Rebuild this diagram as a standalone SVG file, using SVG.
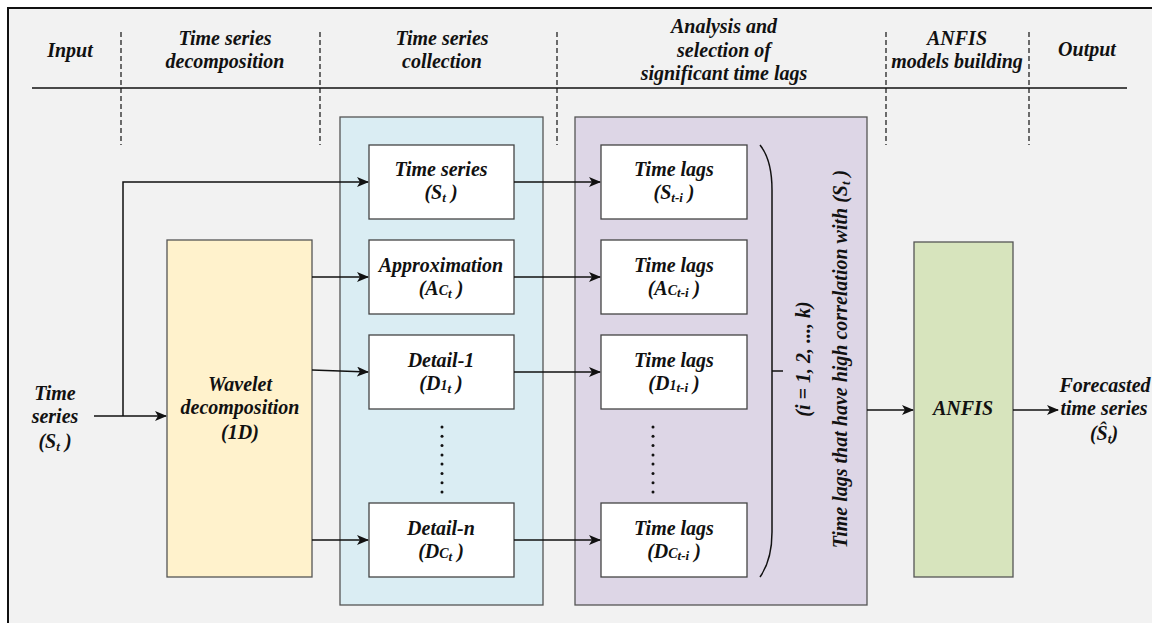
<svg xmlns="http://www.w3.org/2000/svg" width="1152" height="623" viewBox="0 0 1152 623">
  <defs>
    <style>
      text { font-family: 'Liberation Serif', 'DejaVu Serif', serif; font-weight: 700; font-style: italic; fill: #111; }
      .h { font-size: 20px; text-anchor: middle; }
      .n { font-size: 20px; text-anchor: middle; }
      .sm { font-size: 14px; }
      .sub { font-size: 13px; }
      .box { fill: #ffffff; stroke: #444; stroke-width: 1.3; }
      .dash { stroke: #111; stroke-width: 1.2; stroke-dasharray: 5 3; fill: none; }
      .wire { stroke: #111; stroke-width: 1.5; fill: none; }
      .dot { fill: #111; }
    </style>
    <marker id="arrow" viewBox="0 0 12 10" refX="11" refY="5" markerWidth="12" markerHeight="10" markerUnits="userSpaceOnUse" orient="auto">
      <path d="M0,0 L12,5 L0,10 L3,5 Z" fill="#111"/>
    </marker>
  </defs>

  <!-- page and frame -->
  <rect x="0" y="0" width="1152" height="623" fill="#ffffff"/>
  <rect x="8" y="8" width="1150" height="620" fill="#f2f2f2" stroke="#111" stroke-width="2"/>

  <g font-family="Liberation Serif, DejaVu Serif, serif">
  <!-- stage header -->
  <g id="header">
    <line x1="32" y1="88" x2="1127" y2="88" stroke="#111" stroke-width="1.5"/>
    <line class="dash" x1="121" y1="32" x2="121" y2="145"/>
    <line class="dash" x1="320" y1="32" x2="320" y2="145"/>
    <line class="dash" x1="557" y1="32" x2="557" y2="145"/>
    <line class="dash" x1="886" y1="32" x2="886" y2="145"/>
    <line class="dash" x1="1029" y1="32" x2="1029" y2="145"/>
    <text class="h" x="70" y="57">Input</text>
    <text class="h" x="225" y="45">Time series</text>
    <text class="h" x="225" y="68">decomposition</text>
    <text class="h" x="442" y="45">Time series</text>
    <text class="h" x="442" y="68">collection</text>
    <text class="h" x="724" y="33">Analysis and</text>
    <text class="h" x="724" y="57">selection of</text>
    <text class="h" x="724" y="80">significant time lags</text>
    <text class="h" x="957" y="45">ANFIS</text>
    <text class="h" x="957" y="68">models building</text>
    <text class="h" x="1087" y="56">Output</text>
  </g>

  <!-- stage panels -->
  <g id="collection-panel">
    <rect x="340" y="117" width="203" height="488" fill="#daedf3" stroke="#555" stroke-width="1.3"/>
  </g>
  <g id="lags-panel">
    <rect x="575" y="117" width="292" height="488" fill="#ddd6e6" stroke="#555" stroke-width="1.3"/>
  </g>

  <!-- input label -->
  <g id="input">
    <text class="n" x="55" y="400">Time</text>
    <text class="n" x="55" y="423">series</text>
    <text class="n" x="55" y="448">(S<tspan class="sub" dy="3">t</tspan><tspan dy="-3"> )</tspan></text>
  </g>

  <!-- wavelet decomposition -->
  <g id="wavelet">
    <rect x="167" y="240" width="145" height="337" fill="#fff2cc" stroke="#555" stroke-width="1.3"/>
    <text class="n" x="240" y="391">Wavelet</text>
    <text class="n" x="240" y="414">decomposition</text>
    <text class="n" x="240" y="439">(1D)</text>
  </g>

  <!-- collected series -->
  <g id="series-st">
    <rect class="box" x="369" y="145" width="145" height="74"/>
    <text class="n" x="441" y="176">Time series</text>
    <text class="n" x="441" y="199">(S<tspan class="sub" dy="3">t</tspan><tspan dy="-3"> )</tspan></text>
  </g>
  <g id="series-approx">
    <rect class="box" x="369" y="240" width="145" height="74"/>
    <text class="n" x="441" y="272">Approximation</text>
    <text class="n" x="441" y="295">(A<tspan class="sm">C</tspan><tspan class="sub" dy="3">t</tspan><tspan dy="-3"> )</tspan></text>
  </g>
  <g id="series-d1">
    <rect class="box" x="369" y="335" width="145" height="74"/>
    <text class="n" x="441" y="367">Detail-1</text>
    <text class="n" x="441" y="390">(D<tspan class="sm">1</tspan><tspan class="sub" dy="3">t</tspan><tspan dy="-3"> )</tspan></text>
  </g>
  <g id="series-dn">
    <rect class="box" x="369" y="503" width="145" height="74"/>
    <text class="n" x="441" y="535">Detail-n</text>
    <text class="n" x="441" y="558">(D<tspan class="sm">C</tspan><tspan class="sub" dy="3">t</tspan><tspan dy="-3"> )</tspan></text>
  </g>
  <g id="series-dots">
    <circle class="dot" cx="442" cy="427" r="1.5"/>
    <circle class="dot" cx="442" cy="436.3" r="1.5"/>
    <circle class="dot" cx="442" cy="445.6" r="1.5"/>
    <circle class="dot" cx="442" cy="454.9" r="1.5"/>
    <circle class="dot" cx="442" cy="464.1" r="1.5"/>
    <circle class="dot" cx="442" cy="473.4" r="1.5"/>
    <circle class="dot" cx="442" cy="482.7" r="1.5"/>
    <circle class="dot" cx="442" cy="492" r="1.5"/>
  </g>

  <!-- time lag sets -->
  <g id="lags-st">
    <rect class="box" x="601" y="145" width="146" height="74"/>
    <text class="n" x="674" y="176">Time lags</text>
    <text class="n" x="674" y="199">(S<tspan class="sub" dy="3">t-i</tspan><tspan dy="-3"> )</tspan></text>
  </g>
  <g id="lags-approx">
    <rect class="box" x="601" y="240" width="146" height="74"/>
    <text class="n" x="674" y="272">Time lags</text>
    <text class="n" x="674" y="295">(A<tspan class="sm">C</tspan><tspan class="sub" dy="2">t-i</tspan><tspan dy="-2"> )</tspan></text>
  </g>
  <g id="lags-d1">
    <rect class="box" x="601" y="335" width="146" height="74"/>
    <text class="n" x="674" y="367">Time lags</text>
    <text class="n" x="674" y="390">(D<tspan class="sm">1</tspan><tspan class="sub" dy="2">t-i</tspan><tspan dy="-2"> )</tspan></text>
  </g>
  <g id="lags-dn">
    <rect class="box" x="601" y="503" width="146" height="74"/>
    <text class="n" x="674" y="535">Time lags</text>
    <text class="n" x="674" y="558">(D<tspan class="sm">C</tspan><tspan class="sub" dy="2">t-i</tspan><tspan dy="-2"> )</tspan></text>
  </g>
  <g id="lags-dots">
    <circle class="dot" cx="653" cy="427" r="1.5"/>
    <circle class="dot" cx="653" cy="436.3" r="1.5"/>
    <circle class="dot" cx="653" cy="445.6" r="1.5"/>
    <circle class="dot" cx="653" cy="454.9" r="1.5"/>
    <circle class="dot" cx="653" cy="464.1" r="1.5"/>
    <circle class="dot" cx="653" cy="473.4" r="1.5"/>
    <circle class="dot" cx="653" cy="482.7" r="1.5"/>
    <circle class="dot" cx="653" cy="492" r="1.5"/>
  </g>

  <!-- selection brace and its labels -->
  <g id="selection">
    <path class="wire" d="M760,145 Q772,160 772,190 L772,532 Q772,560 760,577"/>
    <line class="wire" x1="772" y1="371" x2="783" y2="371"/>
    <text class="n" transform="translate(810,359) rotate(-90)" x="0" y="0">(i = 1, 2, ..., k)</text>
    <text class="n" transform="translate(847,359) rotate(-90)" x="0" y="0">Time lags that have high correlation with (S<tspan class="sub" dy="3">t</tspan><tspan dy="-3"> )</tspan></text>
  </g>

  <!-- ANFIS model -->
  <g id="anfis">
    <rect x="914" y="242" width="99" height="335" fill="#d7e4bd" stroke="#555" stroke-width="1.3"/>
    <text class="n" x="963" y="415">ANFIS</text>
  </g>

  <!-- output label -->
  <g id="output">
    <text class="n" x="1105" y="392">Forecasted</text>
    <text class="n" x="1104" y="415">time series</text>
    <text class="n" x="1104" y="440">(Ŝ<tspan class="sub" dy="3">t</tspan><tspan dy="-3">)</tspan></text>
  </g>
  </g>

  <!-- connectors -->
  <g id="connectors">
    <line class="wire" x1="94" y1="416" x2="166" y2="416" marker-end="url(#arrow)"/>
    <polyline class="wire" points="123,416 123,182 368,182" marker-end="url(#arrow)"/>
    <line class="wire" x1="312" y1="277" x2="368" y2="277" marker-end="url(#arrow)"/>
    <line class="wire" x1="312" y1="370" x2="368" y2="372" marker-end="url(#arrow)"/>
    <line class="wire" x1="312" y1="540" x2="368" y2="540" marker-end="url(#arrow)"/>
    <line class="wire" x1="514" y1="182" x2="600" y2="182" marker-end="url(#arrow)"/>
    <line class="wire" x1="514" y1="277" x2="600" y2="277" marker-end="url(#arrow)"/>
    <line class="wire" x1="514" y1="372" x2="600" y2="372" marker-end="url(#arrow)"/>
    <line class="wire" x1="514" y1="540" x2="600" y2="540" marker-end="url(#arrow)"/>
    <line class="wire" x1="867" y1="410" x2="913" y2="410" marker-end="url(#arrow)"/>
    <line class="wire" x1="1013" y1="410" x2="1058" y2="410" marker-end="url(#arrow)"/>
  </g>
</svg>
